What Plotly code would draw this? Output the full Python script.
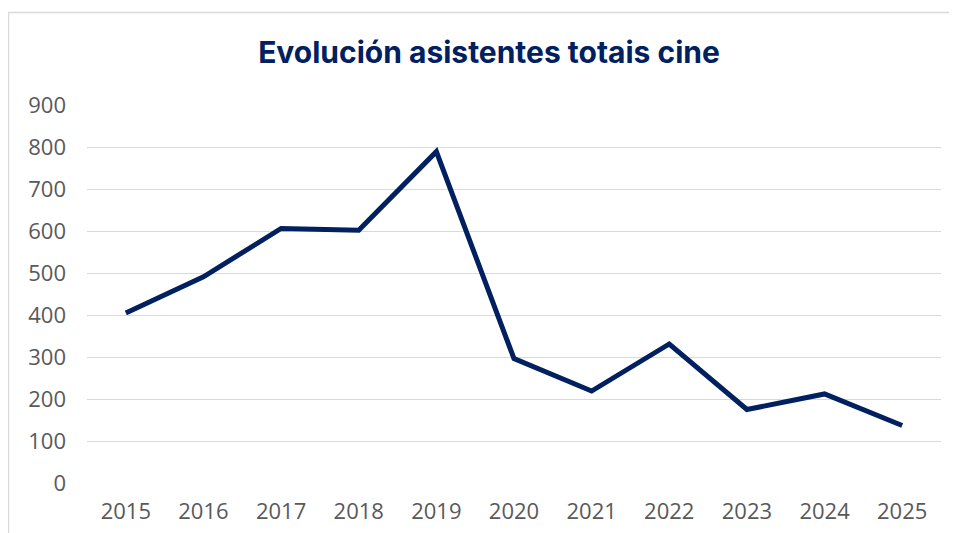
import plotly.graph_objects as go

years = ["2015", "2016", "2017", "2018", "2019", "2020", "2021", "2022", "2023", "2024", "2025"]
asistentes = [405, 491, 606, 602, 789, 296, 219, 331, 175, 212, 137]
y_ticks = [0, 100, 200, 300, 400, 500, 600, 700, 800, 900]
title_text = "Evolución asistentes totais cine"

W, H = 957, 533
# page body has an 8px margin, so figure coords = screen coords - 8
L, R, T, B = 79, 24, 97, 58
pw, ph = W - L - R, H - T - B

fig = go.Figure()
fig.add_trace(go.Scatter(
    x=years, y=asistentes, mode="lines",
    line=dict(color="#002060", width=5),
    hoverinfo="x+y",
))

def px_x(p):
    return (p - L) / pw

def px_y(p):
    return (H - B - p) / ph

fig.add_shape(type="rect", xref="paper", yref="paper",
              x0=px_x(0.5), x1=px_x(W + 5), y0=px_y(H + 5), y1=px_y(4.5),
              line=dict(color="#d9d9d9", width=1.5), fillcolor="rgba(0,0,0,0)", layer="below")

fig.update_layout(
    width=W, height=H,
    margin=dict(l=L, r=R, t=T, b=B),
    paper_bgcolor="white", plot_bgcolor="white",
    showlegend=False,
    title=dict(text=title_text, xref="container", x=(489 - 8) / W, xanchor="center",
               yref="container", y=1 - 44 / H, yanchor="middle",
               font=dict(family="Inter", size=30, color="#002060", weight="bold")),
    font=dict(family="Open Sans", size=22, color="#595959"),
    xaxis=dict(type="category", range=[-0.5, 10.5], showgrid=False, zeroline=False,
               showline=False, ticks="", ticklabelstandoff=13,
               tickfont=dict(family="Open Sans", size=22, color="#595959")),
    yaxis=dict(range=[0, 900], tickvals=y_ticks, showgrid=True, gridcolor="#d9d9d9",
               gridwidth=1.3, zeroline=False, showline=False, ticks="",
               ticklabelstandoff=20,
               tickfont=dict(family="Open Sans", size=22, color="#595959")),
)

fig.write_html("out.html")
